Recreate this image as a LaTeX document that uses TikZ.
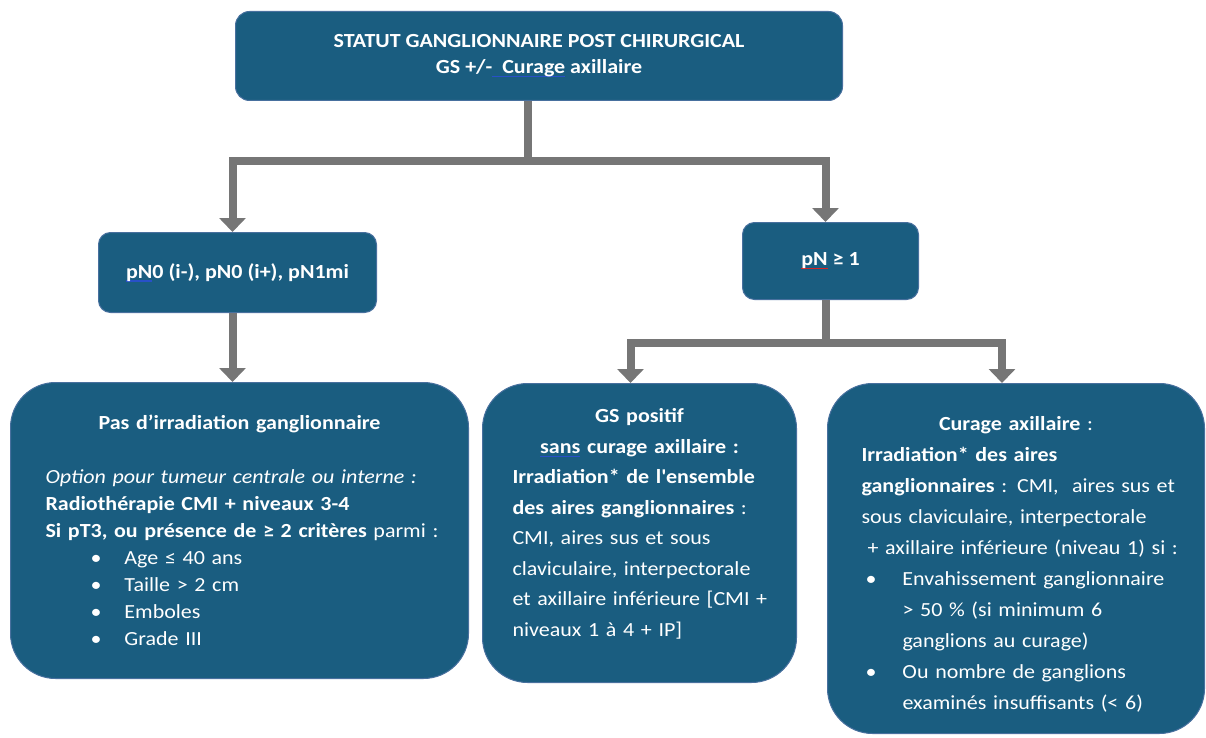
\documentclass[tikz,border=0pt]{standalone}
\usepackage{fontspec}
\setmainfont{Carlito}[FakeStretch=1.1]
\usetikzlibrary{arrows.meta}
\definecolor{boxfill}{RGB}{26,93,128}
\definecolor{boxedge}{RGB}{72,112,158}
\definecolor{linkgray}{RGB}{118,118,118}
\definecolor{proofblue}{RGB}{40,80,200}
\definecolor{proofred}{RGB}{215,35,35}
% proofing mark drawn under a word
\newcommand\markunder[2]{\leavevmode\setbox0=\hbox{#2}\rlap{\color{#1}\rule[-3.5pt]{\wd0}{1.3pt}}\box0\relax}
% bullet followed by its text
\newcommand\bul[3]{\hspace*{#1}\makebox[#2][l]{•}#3}
\begin{document}
\begin{tikzpicture}[x=1pt,y=-1pt,
  card/.style={draw=boxedge, line width=1pt, fill=boxfill, text=white,
    anchor=north west, inner ysep=0pt, inner xsep=10pt},
  link/.style={draw=linkgray, line width=8pt, -{Triangle[width=26pt,length=14pt]}},
]
\useasboundingbox (0,0) rectangle (1206,738);

% decision boxes
\node[card, rounded corners=14pt, minimum width=607pt, minimum height=89pt,
  align=center, font=\bfseries\fontsize{20}{26}\selectfont] (top) at (235,11)
  {STATUT GANGLIONNAIRE POST CHIRURGICAL\\GS +/-\markunder{proofblue}{\ \ Curage} axillaire};

\node[card, rounded corners=12pt, minimum width=278pt, minimum height=80pt,
  font=\bfseries\fontsize{20}{26}\selectfont] (pn0) at (98,232)
  {\markunder{proofblue}{pN}0 (i-), pN0 (i+), pN1mi};

\node[card, rounded corners=12pt, minimum width=176pt, minimum height=77pt,
  font=\bfseries\fontsize{20}{26}\selectfont] (pn1) at (742,222)
  {\markunder{proofred}{pN} ≥ 1};

% treatment boxes
\node[card, rounded corners=45pt, minimum width=458pt, minimum height=296pt,
  text width=438pt, align=left, font=\fontsize{20}{27}\selectfont] (lbox) at (10,382) {%
  {\centering\bfseries Pas d’irradiation ganglionnaire\par}
  \leftskip=25pt
  \vspace{27pt}
  \textit{Option pour tumeur centrale ou interne :}\\
  \textbf{Radiothérapie CMI + niveaux 3-4}\\
  \textbf{Si pT3, ou présence de ≥ 2 critères} parmi :\\
  \bul{45pt}{34pt}{Age ≤ 40 ans}\\
  \bul{45pt}{34pt}{Taille > 2 cm}\\
  \bul{45pt}{34pt}{Emboles}\\
  \bul{45pt}{34pt}{Grade III}\par};

\node[card, rounded corners=45pt, minimum width=314pt, minimum height=299pt,
  text width=294pt, align=left, font=\fontsize{20}{30.5}\selectfont] (mbox) at (482,383) {%
  {\centering\bfseries GS positif\\%
  \markunder{proofblue}{sans} curage axillaire :\par}
  \leftskip=20pt
  \textbf{Irradiation* de l\textquotesingle{}ensemble}\\
  \textbf{des aires ganglionnaires} :\\
  CMI, aires sus et sous\\
  claviculaire, interpectorale\\
  et axillaire inférieure [CMI +\\
  niveaux 1 à 4 + IP]\par
  \vspace{18pt}};

\node[card, rounded corners=45pt, minimum width=377pt, minimum height=350pt,
  text width=357pt, align=left, font=\fontsize{20}{31}\selectfont] (rbox) at (827,383) {%
  {\centering\rule{0pt}{26pt}\textbf{Curage axillaire} :\par}
  \leftskip=24pt
  \textbf{Irradiation* des aires}\\
  \textbf{ganglionnaires} : CMI,\ \ aires sus et\\
  sous claviculaire, interpectorale\\
  \hspace*{6pt}+ axillaire inférieure (niveau 1) si :\\
  \bul{4pt}{37pt}{Envahissement ganglionnaire}\\
  \hspace*{41pt}> 50 \% (si minimum 6\\
  \hspace*{41pt}ganglions au curage)\\
  \bul{4pt}{37pt}{Ou nombre de ganglions}\\
  \hspace*{41pt}examinés insuffisants (< 6)\par};

% connectors
\draw[link] ([xshift=-11pt]top.south) -- ++(0,60) -| ([xshift=-5pt]pn0.north);
\draw[link] ([xshift=-11pt]top.south) -- ++(0,60) -| ([xshift=-5pt]pn1.north);
\draw[link] ([xshift=-5pt]pn0.south) -- ([xshift=-5pt]pn0.south |- lbox.north);
\draw[link] ([xshift=-5pt]pn1.south) -- ++(0,43) -| ([xshift=-9pt]mbox.north);
\draw[link] ([xshift=-5pt]pn1.south) -- ++(0,43) -| ([xshift=-14pt]rbox.north);
\end{tikzpicture}
\end{document}
